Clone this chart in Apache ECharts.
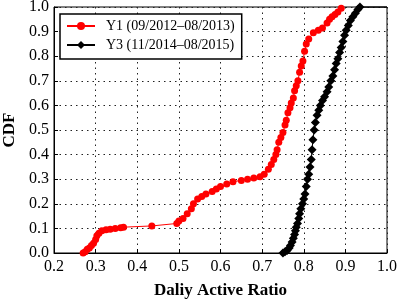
<!DOCTYPE html>
<html>
<head>
<meta charset="utf-8">
<script src="https://cdn.jsdelivr.net/npm/echarts@6/dist/echarts.min.js"></script>
<style>html,body{margin:0;padding:0;background:#fff}#c{width:399px;height:300px}</style>
</head>
<body>
<div id="c"></div>
<script>
const seriesNames = ['Y1 (09/2012\u201308/2013)', 'Y3 (11/2014\u201308/2015)'];
const y1X = [0.27,0.275,0.28,0.285,0.29,0.295,0.30,0.303,0.308,0.315,0.325,0.335,0.347,0.36,0.367,0.435,0.495,0.50,0.51,0.52,0.53,0.535,0.545,0.555,0.565,0.58,0.59,0.60,0.615,0.63,0.65,0.665,0.68,0.695,0.705,0.715,0.722,0.728,0.733,0.736,0.74,0.745,0.75,0.755,0.758,0.762,0.767,0.77,0.775,0.778,0.782,0.786,0.79,0.794,0.798,0.802,0.806,0.812,0.823,0.835,0.845,0.856,0.862,0.868,0.875,0.882,0.89];
const y1Y = [0.0,0.005,0.015,0.02,0.03,0.04,0.055,0.07,0.08,0.09,0.095,0.097,0.10,0.103,0.105,0.11,0.12,0.13,0.14,0.16,0.18,0.20,0.22,0.23,0.24,0.25,0.26,0.27,0.28,0.29,0.295,0.30,0.305,0.31,0.32,0.34,0.36,0.38,0.40,0.42,0.45,0.47,0.49,0.52,0.54,0.57,0.59,0.61,0.63,0.66,0.68,0.70,0.735,0.76,0.78,0.82,0.85,0.87,0.895,0.905,0.915,0.935,0.95,0.96,0.97,0.98,0.995];
const y3X = [0.75,0.755,0.76,0.765,0.768,0.772,0.775,0.778,0.78,0.782,0.785,0.788,0.79,0.793,0.797,0.80,0.803,0.806,0.809,0.812,0.815,0.818,0.82,0.822,0.825,0.828,0.832,0.836,0.84,0.845,0.85,0.856,0.86,0.865,0.87,0.874,0.878,0.882,0.886,0.89,0.894,0.898,0.902,0.907,0.912,0.918,0.924,0.93,0.935];
const y3Y = [0.0,0.005,0.01,0.02,0.03,0.045,0.06,0.075,0.09,0.105,0.12,0.14,0.16,0.18,0.20,0.22,0.24,0.27,0.30,0.32,0.35,0.38,0.42,0.46,0.50,0.53,0.56,0.58,0.60,0.62,0.635,0.655,0.675,0.70,0.72,0.745,0.77,0.79,0.815,0.835,0.86,0.885,0.905,0.925,0.945,0.96,0.975,0.99,1.0];
const y3TailX = [0.935, 1.0];
const y3TailY = [1.0, 1.0];

const zip = (a, b) => a.map((v, i) => [v, b[i]]);
const font = 'Liberation Serif, Times New Roman, serif';
const chart = echarts.init(document.getElementById('c'), null, {renderer: 'canvas'});
const gridLine = {show: true, lineStyle: {color: '#222', type: [1.5, 4], width: 1}};
chart.setOption({
  animation: false,
  backgroundColor: '#fff',
  grid: {left: 54, right: 12, top: 7, bottom: 47, outerBoundsMode: 'none', containLabel: false,
         show: true, borderColor: '#000', borderWidth: 1, backgroundColor: 'transparent'},
  legend: {
    data: seriesNames,
    orient: 'vertical', left: 60, top: 14,
    borderColor: '#000', borderWidth: 1.5, backgroundColor: '#fff',
    padding: [5, 7, 7, 6], itemGap: 5, itemWidth: 28, itemHeight: 10,
    textStyle: {fontFamily: font, fontSize: 14, color: '#000', padding: [0, 0, 0, 6]}
  },
  xAxis: {
    type: 'value', min: 0.2, max: 1.0, interval: 0.1,
    name: 'Daliy Active Ratio', nameLocation: 'middle', nameGap: 29,
    nameTextStyle: {fontFamily: font, fontSize: 17, fontWeight: 'bold', color: '#000'},
    axisLine: {show: true, lineStyle: {color: '#000'}},
    axisTick: {show: true, inside: true, length: 4, lineStyle: {color: '#000'}},
    axisLabel: {fontFamily: font, fontSize: 16, color: '#000', margin: 6, formatter: v => v.toFixed(1)},
    splitLine: gridLine
  },
  yAxis: {
    type: 'value', min: 0, max: 1.0, interval: 0.1,
    name: 'CDF', nameLocation: 'middle', nameGap: 34,
    nameTextStyle: {fontFamily: font, fontSize: 17, fontWeight: 'bold', color: '#000'},
    axisLine: {show: true, lineStyle: {color: '#000'}},
    axisTick: {show: true, inside: true, length: 4, lineStyle: {color: '#000'}},
    axisLabel: {fontFamily: font, fontSize: 16, color: '#000', margin: 5, formatter: v => v.toFixed(1)},
    splitLine: gridLine
  },
  series: [
    {name: seriesNames[0], type: 'line', data: zip(y1X, y1Y), symbol: 'circle', symbolSize: 7,
     itemStyle: {color: '#ff0000'}, lineStyle: {color: '#ff0000', width: 1}, z: 3},
    {name: seriesNames[1], type: 'line', data: zip(y3X, y3Y), symbol: 'diamond', symbolSize: 9,
     itemStyle: {color: '#000'}, lineStyle: {color: '#000', width: 1}, z: 3},
    {name: 'tail', type: 'line', data: zip(y3TailX, y3TailY), symbol: 'none',
     lineStyle: {color: '#000', width: 1.5}, z: 3}
  ]
});
</script>
</body>
</html>
